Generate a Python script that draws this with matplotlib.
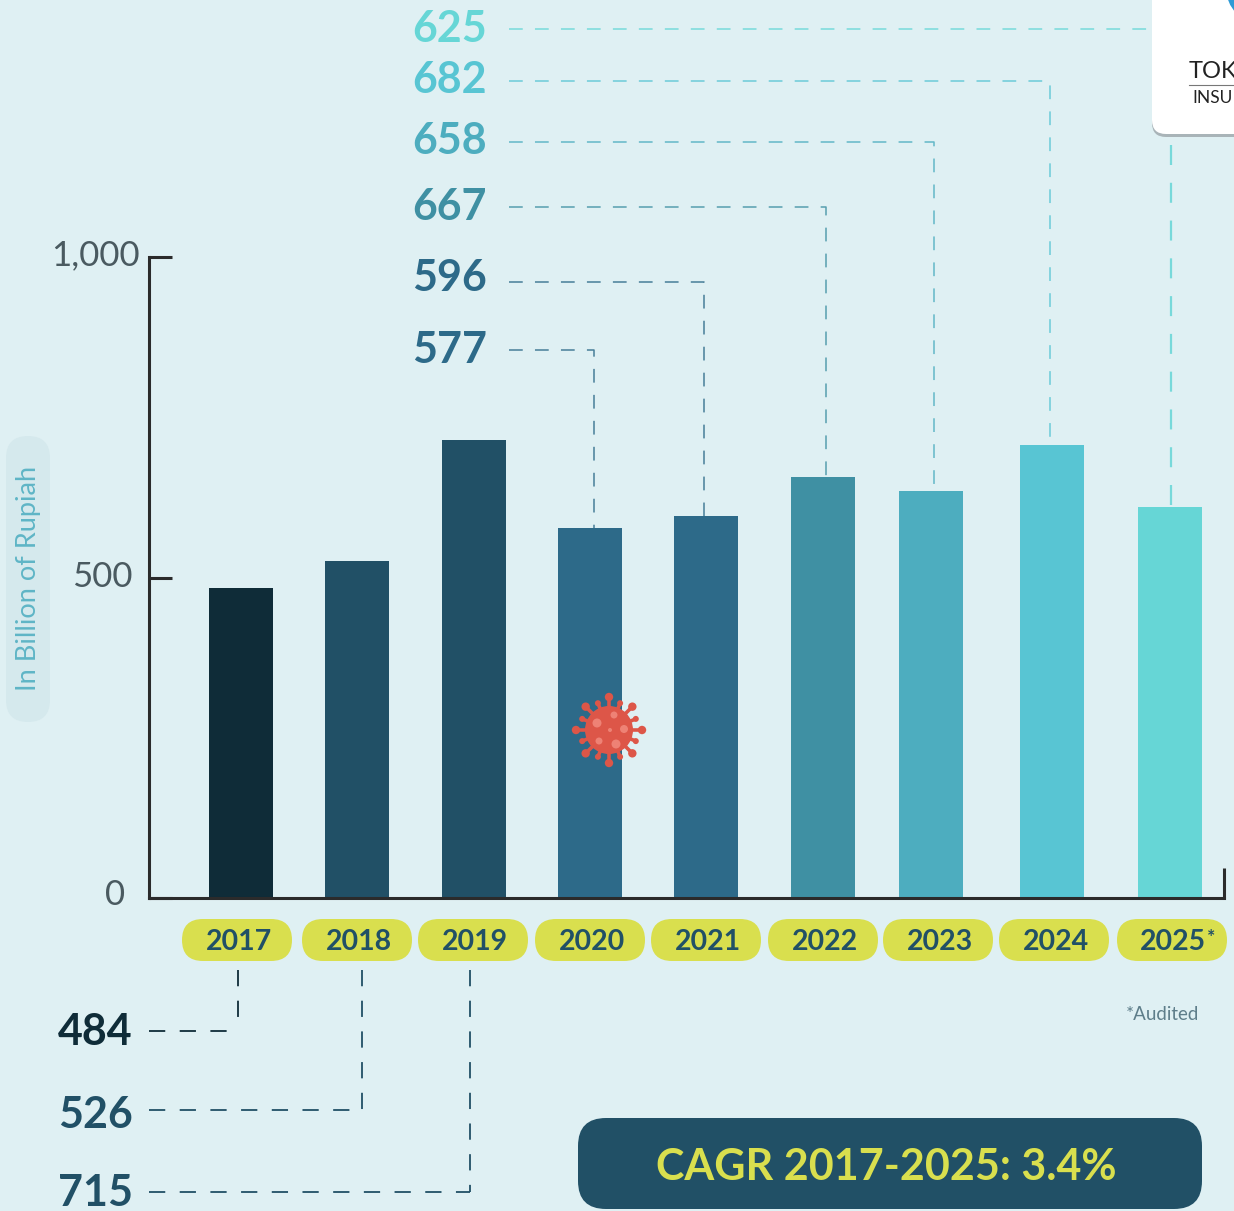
#import necessary libraries
import matplotlib
matplotlib.use("Agg")
import matplotlib.pyplot as plt
from matplotlib.patches import Circle, FancyBboxPatch
import numpy as np

plt.rcParams['font.family'] = ['Lato', 'DejaVu Sans']

#chart data
years = ['2017', '2018', '2019', '2020', '2021', '2022', '2023', '2024', '2025*']
bar_heights = [484, 526, 715, 577, 596, 657, 635, 707, 610]
bar_labels = ['484', '526', '715', '577', '596', '667', '658', '682', '625']
y_ticks = [0, 500, 1000]
y_tick_labels = ['0', '500', '1,000']

#layout in pixels of the 1234x1211 picture
W, H = 1234, 1211
bar_x = [241, 357, 474, 590, 706, 823, 931, 1052, 1170]
pill_x = [237, 357, 473, 590, 706, 823, 938, 1054, 1172]
colors = ['#0F2C38', '#215066', '#215066', '#2D6A89', '#2D6A89',
          '#3F90A3', '#4DADBF', '#58C5D3', '#66D6D6']
BG = '#DFF0F3'
YELLOW = '#D9DF4E'
NAVY = '#215066'

fig = plt.figure(figsize=(W/100, H/100), dpi=100, facecolor=BG)

#the chart itself, axes box placed at the pixel position of the spines
left, right, top, bottom = 149, 1224, 257, 898
ax = fig.add_axes([left/W, 1-bottom/H, (right-left)/W, (bottom-top)/H])
ax.set_facecolor('none')
ax.set_xlim(left, right)
ax.set_ylim(0, 1000)
ax.bar(bar_x, bar_heights, width=64, color=colors, zorder=2)
ax.set_xticks([])
ax.set_yticks(y_ticks)
ax.set_yticklabels([])
ax.tick_params(axis='y', direction='in', length=16.5, width=2.2, color='#2B2B2B')
for s in ['top', 'right']:
    ax.spines[s].set_visible(False)
for s in ['left', 'bottom']:
    ax.spines[s].set_linewidth(2.2)
    ax.spines[s].set_color('#2B2B2B')

#everything around the chart, drawn in pixel coordinates
ov = fig.add_axes([0, 0, 1, 1])
ov.set_xlim(0, W)
ov.set_ylim(H, 0)
ov.axis('off')
ov.patch.set_alpha(0)

#short right end of the x axis
ov.plot([1224, 1224], [868, 899], color='#2B2B2B', lw=2.2, solid_capstyle='butt')

#y tick labels
tick_x = [125, 133, 140]
tick_y = [895, 577, 255]
for lab, tx, ty in zip(y_tick_labels, tick_x, tick_y):
    ov.text(tx, ty, lab, ha='right', va='center', fontsize=25,
            color='#4A5A60', fontweight='normal')

#y axis title on its pale pill
ov.add_patch(FancyBboxPatch((28, 458), 0, 242, boxstyle='round,pad=22,rounding_size=22',
                            fc='#D5E9ED', ec='none', zorder=1))
ov.text(29, 578, 'In Billion of Rupiah', rotation=90, ha='center', va='center',
        fontsize=19.5, color='#5FB5C6', fontweight='normal', zorder=2)

#year pills
for yr, px in zip(years, pill_x):
    ov.add_patch(FancyBboxPatch((px-34, 940), 68, 0, boxstyle='round,pad=21,rounding_size=21',
                                fc=YELLOW, ec='none', zorder=2))
    if yr.endswith('*'):
        ov.text(px-32, 942, yr[:-1], ha='left', va='center', fontsize=20.5,
                fontweight='bold', color=NAVY, zorder=3)
        ov.text(px+35, 937, '*', ha='left', va='center', fontsize=14,
                fontweight='bold', color=NAVY, zorder=3)
    else:
        ov.text(px+2, 942, yr, ha='center', va='center', fontsize=20.5,
                fontweight='bold', color=NAVY, zorder=3)

ov.text(1162, 1014, '*Audited', ha='center', va='center', fontsize=13.5,
        color='#5E7E8A', fontweight='normal')

#upper labels with their dashed leaders (2020 to 2025)
upper_y = [350, 282, 207, 142, 81, 29]
upper_text_y = [350, 278, 207, 141, 80, 29]
upper_x = [594, 704, 826, 934, 1050, 1171]
upper_bar_end = [528, 516, 477, 491, 445, 532]
upper_idx = [3, 4, 5, 6, 7, 8]
upper_color = ['#2D6A89', '#2D6A89', '#3F90A3', '#4DADBF', '#58C5D3', '#66D6D6']
dash = (0, (9, 8))
for i, ly, ty, lx, ye, c in zip(upper_idx, upper_y, upper_text_y, upper_x, upper_bar_end, upper_color):
    ov.text(487, ty, bar_labels[i], ha='right', va='center', fontsize=31,
            fontweight='bold', color=c)
    if i == 8:
        #this leader runs behind the logo card
        ov.plot([509, 1152], [ly, ly], color=c, lw=1.1, ls=dash, alpha=0.85)
        ov.plot([lx, lx], [145, ye], color=c, lw=1.6, ls=dash, alpha=0.85)
    else:
        ov.plot([509, lx, lx], [ly, ly, ye], color=c, lw=1.1, ls=dash, alpha=0.85)

#lower labels with their dashed leaders (2017 to 2019)
lower_y = [1031, 1110, 1192]
lower_text_y = [1032, 1115, 1193]
lower_x = [238, 362, 470]
for i, ly, ty, lx in zip([0, 1, 2], lower_y, lower_text_y, lower_x):
    c = colors[i]
    ov.text(133, ty, bar_labels[i], ha='right', va='center', fontsize=31,
            fontweight='bold', color=c)
    ov.plot([lx, lx], [970, ly], color=c, lw=1.3, ls=dash)
    ov.plot([149, lx], [ly, ly], color=c, lw=1.3, ls=dash)

#CAGR box
ov.add_patch(FancyBboxPatch((606, 1146), 568, 35, boxstyle='round,pad=28,rounding_size=28',
                            fc=NAVY, ec='none', zorder=3))
ov.text(886, 1167, 'CAGR 2017-2025: 3.4%', ha='center', va='center', fontsize=31,
        fontweight='bold', color=YELLOW, zorder=4)

#logo card in the top right corner, cut by the picture edge
ov.add_patch(FancyBboxPatch((1166, -40), 200, 163, boxstyle='round,pad=14,rounding_size=14',
                            fc='#A9B4B8', ec='none', zorder=5))
ov.add_patch(FancyBboxPatch((1166, -40), 200, 160, boxstyle='round,pad=14,rounding_size=14',
                            fc='white', ec='none', zorder=6))
ov.add_patch(Circle((1262, -12), 36, fc='#2E9BD6', ec='none', zorder=7))
ov.add_patch(Circle((1270, -20), 38, fc='white', ec='none', zorder=7))
ov.text(1189, 71, 'TOK', ha='left', va='center', fontsize=17, color='#222222', zorder=8)
ov.plot([1189, W], [85, 85], color='#777777', lw=0.8, zorder=8)
ov.text(1192, 98, 'INSU', ha='left', va='center', fontsize=12.5, color='#222222', zorder=8)

#virus icon on the 2020 bar
vx, vy = 609, 730
RED = '#DD5648'
angles = np.arange(16) * 2*np.pi/16
for k, a in enumerate(angles):
    r = 33 if k % 2 == 0 else 29
    ov.plot([vx, vx+r*np.cos(a)], [vy, vy+r*np.sin(a)], color=RED, lw=2.6, zorder=9)
    ov.add_patch(Circle((vx+r*np.cos(a), vy+r*np.sin(a)), 4.2 if k % 2 == 0 else 3,
                        fc=RED, ec='none', zorder=9))
ov.add_patch(Circle((vx, vy), 24, fc=RED, ec='none', zorder=10))
for dx, dy, r in [(-12, -7, 4.5), (5, -15, 3.5), (15, -1, 4), (-10, 11, 3.5), (7, 14, 4.5), (1, 0, 2)]:
    ov.add_patch(Circle((vx+dx, vy+dy), r, fc='#EE8275', ec='none', zorder=11))

fig.savefig('out.png', dpi=100, facecolor=BG)
